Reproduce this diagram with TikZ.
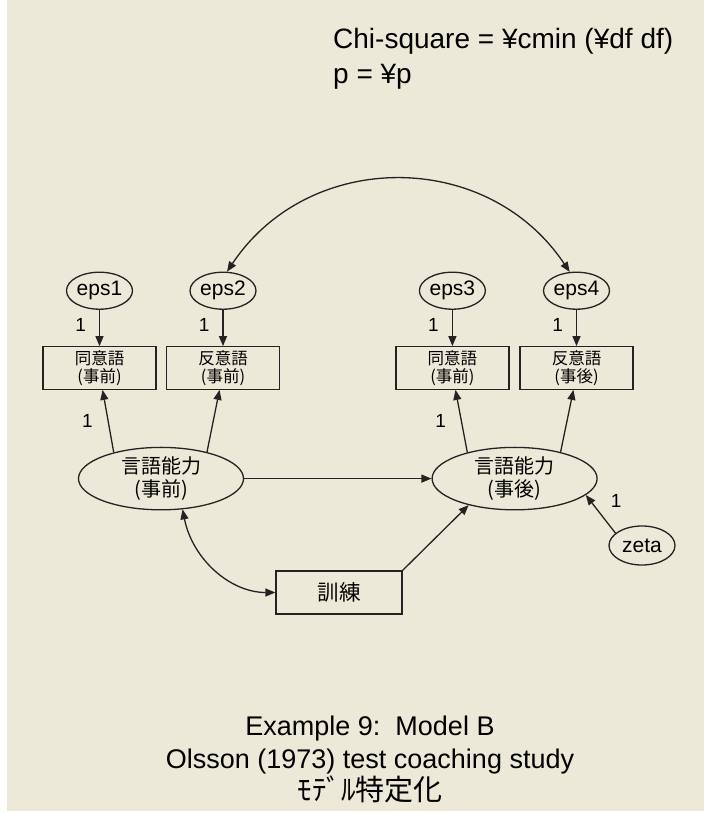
\documentclass[tikz,border=0pt]{standalone}
\usepackage{fontspec}
\setmainfont{Liberation Sans}
\newfontfamily\jpfont{Noto Sans CJK JP}
\definecolor{amosbg}{RGB}{236,233,216}
\definecolor{amosline}{RGB}{35,35,35}
\usetikzlibrary{arrows.meta,shapes.geometric,calc}

\begin{document}
\begin{tikzpicture}[x=1pt,y=-1pt,
  errvar/.style={draw=amosline,ellipse,line width=1.3pt,minimum width=66pt,minimum height=37pt,
    inner sep=0pt,font=\fontsize{21}{21}\selectfont},
  obsvar/.style={draw=amosline,rectangle,line width=1.3pt,minimum width=113pt,minimum height=42.5pt,
    inner sep=0pt,align=center,font=\jpfont\fontsize{16.5}{18.5}\selectfont},
  latvar/.style={draw=amosline,ellipse,line width=1.3pt,minimum width=165pt,minimum height=62pt,
    inner sep=0pt,align=center,font=\jpfont\fontsize{20}{23.4}\selectfont},
  regpath/.style={draw=amosline,line width=1.3pt,-{Triangle[length=10pt,width=8pt]}},
  covpath/.style={draw=amosline,line width=1.3pt,{Triangle[length=10pt,width=8pt]}-{Triangle[length=10pt,width=8pt]}},
  wlabel/.style={font=\fontsize{19}{19}\selectfont,inner sep=0pt}
]
  \useasboundingbox (0,0) rectangle (704,814);
  \fill[white] (0,0) rectangle (704,814);
  \fill[amosbg] (7,0) rectangle (704,811);

  % fit statistics
  \node[anchor=west,align=left,font=\fontsize{28}{35}\selectfont,inner sep=0pt] (fitstat) at (333,59)
    {Chi-square = ¥cmin (¥df df)\\p = ¥p};

  % error terms
  \node[errvar] (eps1) at (99.5,290.7) {eps1};
  \node[errvar] (eps2) at (223,290.7) {eps2};
  \node[errvar] (eps3) at (452.4,290.7) {eps3};
  \node[errvar] (eps4) at (576.5,290.7) {eps4};

  % observed indicators
  \node[obsvar] (ind1) at (99.5,368) {同意語\\(事前)};
  \node[obsvar] (ind2) at (223,368) {反意語\\(事前)};
  \node[obsvar] (ind3) at (452.4,368) {同意語\\(事前)};
  \node[obsvar] (ind4) at (576.5,368) {反意語\\(事後)};

  % latent variables
  \node[latvar] (pre) at (161,478.6) {言語能力\\(事前)};
  \node[latvar] (post) at (514.6,478.6) {言語能力\\(事後)};

  % treatment and disturbance
  \node[draw=amosline,line width=1.3pt,minimum width=126pt,minimum height=43pt,inner sep=0pt,
    font=\jpfont\fontsize{21.5}{21.5}\selectfont] (train) at (339,592.5) {訓練};
  \node[errvar,minimum height=39pt] (zeta) at (642,545.5) {zeta};

  % caption
  \node[align=center,font=\fontsize{27}{32.4}\selectfont,inner sep=0pt] (caption) at (370,759.5)
    {Example 9:\ \ Model B\\Olsson (1973) test coaching study\\{\jpfont\fontsize{29}{32.4}\selectfont ﾓﾃﾞﾙ特定化}};

  % error paths
  \foreach \i in {1,...,4}
    \draw[regpath] (eps\i) -- node[wlabel,pos=0.41,left=13pt] (w\i) {1} (ind\i);

  % loadings
  \draw[regpath] (pre.151) -- node[wlabel,left=14.7pt] (l1) {1} (ind1.278);
  \draw[regpath] (pre.30) -- (ind2.261);
  \draw[regpath] (post.151) -- node[wlabel,left=14.7pt] (l3) {1} (ind3.278);
  \draw[regpath] (post.30) -- (ind4.262);

  % structural paths
  \draw[regpath] (pre) -- (post);
  \draw[regpath] (train.north east) -- (post.210);
  \draw[regpath] (zeta.155) -- node[wlabel,pos=0.85,right=20pt] (lz) {1} (post.-13);

  % covariances
  \draw[covpath] (eps2.78) .. controls +(82,-123) and +(-82,-123) .. (eps4.110);
  \draw[covpath] (pre.-55) .. controls +(10,50) and +(-45,0) .. (train.west);
\end{tikzpicture}
\end{document}
